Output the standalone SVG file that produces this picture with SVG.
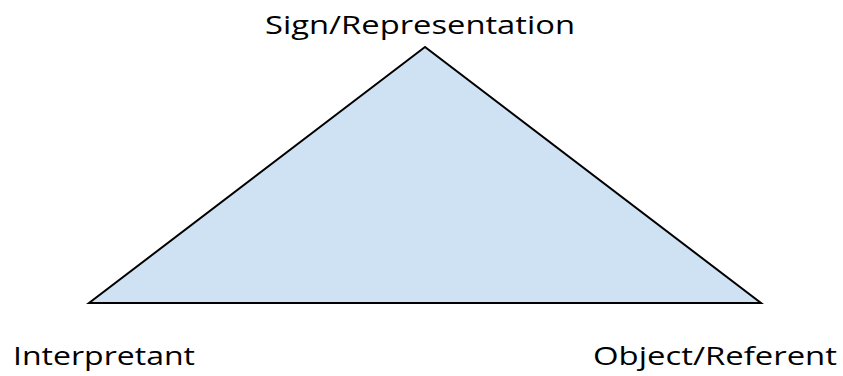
<svg xmlns="http://www.w3.org/2000/svg" width="843" height="376" viewBox="0 0 843 376">
<style>
.lbl{font-family:"Open Sans","Liberation Sans",sans-serif;font-size:26px;fill:#000}
</style>
<rect width="843" height="376" fill="#fff"/>
<g id="connectors">
<polygon points="425,47 89,303 761,303" fill="#cfe2f3" stroke="#000" stroke-width="2" stroke-linejoin="miter"/>
</g>
<g id="sign"><text class="lbl" x="265" y="34" textLength="310" lengthAdjust="spacingAndGlyphs">Sign/Representation</text></g>
<g id="interpretant"><text class="lbl" x="13" y="365" textLength="182" lengthAdjust="spacingAndGlyphs">Interpretant</text></g>
<g id="object"><text class="lbl" x="593" y="365" textLength="244" lengthAdjust="spacingAndGlyphs">Object/Referent</text></g>
</svg>
